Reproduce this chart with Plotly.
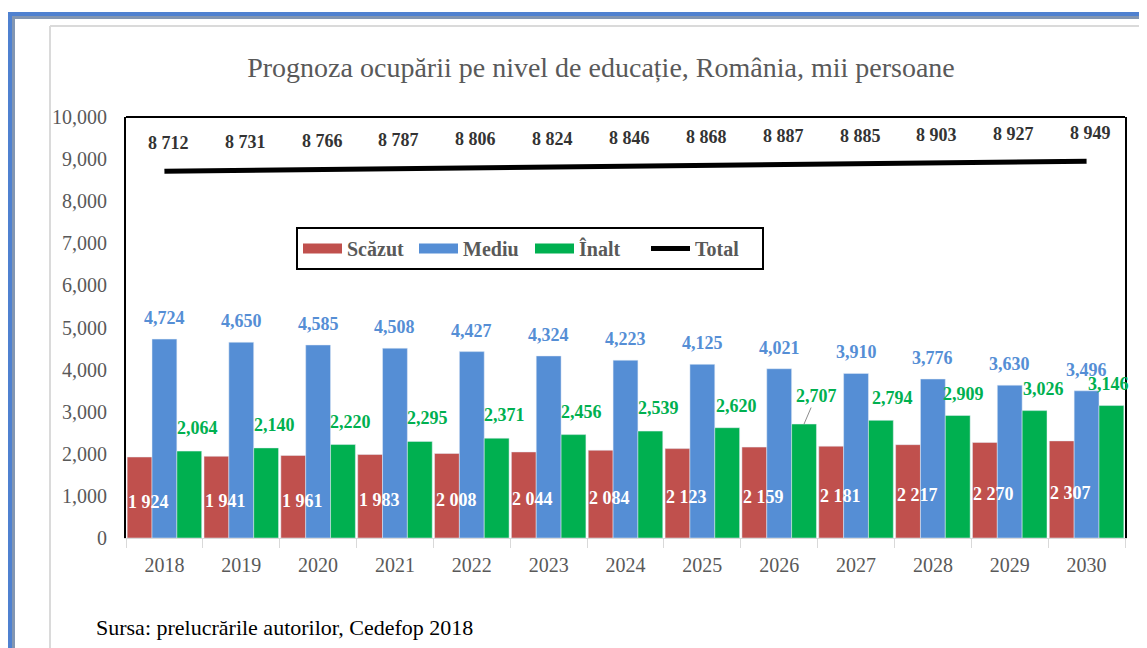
import plotly.graph_objects as go

years = ["2018", "2019", "2020", "2021", "2022", "2023", "2024", "2025", "2026", "2027", "2028", "2029", "2030"]
scazut = [1924, 1941, 1961, 1983, 2008, 2044, 2084, 2123, 2159, 2181, 2217, 2270, 2307]
mediu = [4724, 4650, 4585, 4508, 4427, 4324, 4223, 4125, 4021, 3910, 3776, 3630, 3496]
inalt = [2064, 2140, 2220, 2295, 2371, 2456, 2539, 2620, 2707, 2794, 2909, 3026, 3146]
total = [8712, 8731, 8766, 8787, 8806, 8824, 8846, 8868, 8887, 8885, 8903, 8927, 8949]

title = "Prognoza ocupării pe nivel de educație, România, mii persoane"
source = "Sursa: prelucrările autorilor, Cedefop 2018"

RED, BLUE, GREEN = "#C0504D", "#558ED5", "#00B050"
GREY = "#595959"
SERIF = "Liberation Serif"

# page renders the figure with an 8px body margin; work in screen pixels
OFF = 8
W, H = 1147, 648
ML, MT = 126 - OFF, 117 - OFF
MR, MB = W - (1125 - OFF), H - (538 - OFF)
PW, PH = W - ML - MR, H - MT - MB


def px(x):
    return (x - OFF - ML) / PW


def py(y):
    return (H - MB - (y - OFF)) / PH


def sp(v):
    return f"{v:,}".replace(",", " ")


fig = go.Figure()
fig.add_trace(go.Bar(x=years, y=scazut, name="Scăzut", marker_color=RED, showlegend=False))
fig.add_trace(go.Bar(x=years, y=mediu, name="Mediu", marker_color=BLUE, showlegend=False))
fig.add_trace(go.Bar(x=years, y=inalt, name="Înalt", marker_color=GREEN, showlegend=False))
fig.add_trace(go.Scatter(x=years, y=total, name="Total", mode="lines",
                         line=dict(color="black", width=5), showlegend=False))

# legend proxies
for nm, col, w in [("Scăzut", RED, 10), ("Mediu", BLUE, 10), ("Înalt", GREEN, 10), ("Total", "black", 5)]:
    fig.add_trace(go.Scatter(x=[None], y=[None], name=nm, mode="lines",
                             line=dict(color=col, width=w)))

ann = []
bw = 0.97 * PW / len(years) / 3
green_dx = [8, 8, 8, 8, 8, 8, 8, 9, 12, 12, 6, 9, -3]
green_dy = [23, 23, 23, 23, 23, 23, 23, 22, 28, 22, 22, 22, 22]
for i, yr in enumerate(years):
    ann.append(dict(x=i, y=scazut[i] / 2, text=sp(scazut[i]), showarrow=False,
                    xanchor="left", xshift=-bw * 1.5 - 1, yshift=-4,
                    font=dict(family=SERIF, size=18, color="white", weight="bold")))
    ann.append(dict(x=i, y=mediu[i], text=f"{mediu[i]:,}", showarrow=False,
                    yanchor="middle", yshift=21,
                    font=dict(family=SERIF, size=18, color=BLUE, weight="bold")))
    if yr == "2026":
        ann.append(dict(x=i, y=inalt[i], text=f"{inalt[i]:,}", showarrow=True,
                        arrowhead=0, arrowwidth=1, arrowcolor="#8c8c8c",
                        ax=green_dx[i], ay=-green_dy[i], xshift=bw,
                        font=dict(family=SERIF, size=18, color=GREEN, weight="bold")))
    else:
        ann.append(dict(x=i, y=inalt[i], text=f"{inalt[i]:,}", showarrow=False,
                        yanchor="middle", xshift=bw + green_dx[i], yshift=green_dy[i],
                        font=dict(family=SERIF, size=18, color=GREEN, weight="bold")))
    ann.append(dict(x=i, y=total[i], text=sp(total[i]), showarrow=False,
                    yanchor="middle", xshift=4, yshift=28,
                    font=dict(family=SERIF, size=18, color="#333333", weight="bold")))

ann.append(dict(xref="paper", yref="paper", x=px(94), y=py(627), text=source,
                showarrow=False, xanchor="left", yanchor="middle",
                font=dict(family=SERIF, size=22, color="black")))

shapes = [
    dict(type="line", xref="paper", yref="paper", x0=0, x1=1, y0=1, y1=1,
         line=dict(color="black", width=2)),
    dict(type="line", xref="paper", yref="paper", x0=px(8), x1=px(1160), y0=py(14), y1=py(14),
         line=dict(color="#4F81D0", width=4)),
    dict(type="line", xref="paper", yref="paper", x0=px(10), x1=px(10), y0=py(12), y1=py(660),
         line=dict(color="#4F81D0", width=4)),
    dict(type="line", xref="paper", yref="paper", x0=px(12), x1=px(1160), y0=py(17.5), y1=py(17.5),
         line=dict(color="#8296B2", width=3)),
    dict(type="line", xref="paper", yref="paper", x0=px(13.5), x1=px(13.5), y0=py(16), y1=py(660),
         line=dict(color="#8296B2", width=3)),
    dict(type="line", xref="paper", yref="paper", x0=px(50), x1=px(1160), y0=py(26), y1=py(26),
         line=dict(color="#DADADA", width=2)),
    dict(type="line", xref="paper", yref="paper", x0=px(50), x1=px(50), y0=py(26), y1=py(660),
         line=dict(color="#DADADA", width=2)),
]

fig.update_layout(
    width=W, height=H,
    margin=dict(l=ML, r=MR, t=MT, b=MB),
    paper_bgcolor="white", plot_bgcolor="white",
    barmode="group", bargap=0.03, bargroupgap=0,
    title=dict(text=title, x=(601 - OFF) / W, xref="container", xanchor="center",
               y=1 - (67 - OFF) / H, yref="container", yanchor="middle",
               font=dict(family=SERIF, size=28, color=GREY)),
    xaxis=dict(type="category", range=[-0.5, len(years) - 0.5],
               showline=True, linecolor="#D9D9D9", linewidth=1,
               ticks="outside", tickson="boundaries", ticklen=9, tickcolor="#D9D9D9",
               showgrid=False, ticklabelstandoff=9, tickangle=0,
               tickfont=dict(family=SERIF, size=20, color=GREY)),
    yaxis=dict(range=[0, 10000], dtick=1000, tickformat=",", showgrid=False,
               showline=True, mirror=True, linecolor="black", linewidth=2,
               ticks="", ticklabelstandoff=13, zeroline=False,
               tickfont=dict(family=SERIF, size=20, color=GREY)),
    legend=dict(orientation="h", x=px(296), y=py(227), xanchor="left", yanchor="top",
                bordercolor="black", borderwidth=2, bgcolor="white",
                itemwidth=39, entrywidth=62, entrywidthmode="pixels",
                font=dict(family=SERIF, size=20, color=GREY, weight="bold")),
    annotations=ann,
    shapes=shapes,
)

fig.write_html("out.html")
